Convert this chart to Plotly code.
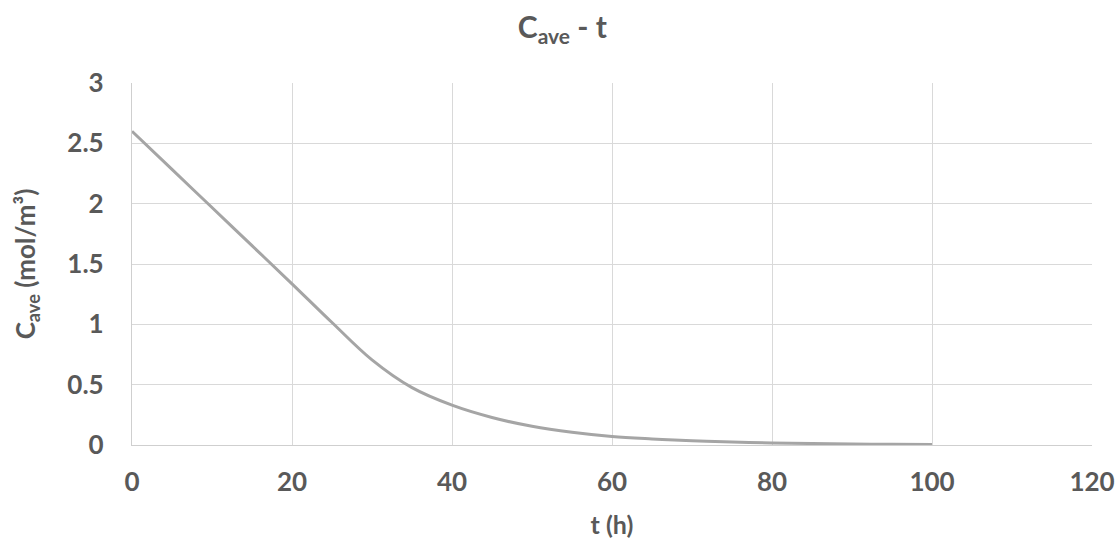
import plotly.graph_objects as go

# Average concentration over time
t_hours = [0, 5, 10, 15, 20, 25, 30, 35, 40, 45, 50, 55, 60, 65, 70, 75, 80, 85, 90, 95, 100]
c_ave = [2.6, 2.284, 1.968, 1.652, 1.336, 1.015, 0.705, 0.475, 0.33, 0.228, 0.155, 0.105, 0.07,
         0.05, 0.035, 0.024, 0.017, 0.012, 0.008, 0.006, 0.004]

x_ticks = [0, 20, 40, 60, 80, 100, 120]
y_ticks = [0, 0.5, 1, 1.5, 2, 2.5, 3]

FONT = "Lato"
TEXT = "#595959"
GRID = "#D9D9D9"

fig = go.Figure()
fig.add_trace(go.Scatter(
    x=t_hours, y=c_ave, mode="lines",
    line=dict(color="#A5A5A5", width=3, shape="spline", smoothing=1.0),
    showlegend=False, hoverinfo="skip",
))

fig.update_layout(
    width=1118, height=542,
    paper_bgcolor="white", plot_bgcolor="white",
    margin=dict(l=132, r=26, t=83, b=97, autoexpand=False),
    title=dict(text="<b>C<sub>ave</sub> - t</b>", x=0.503, xanchor="center",
               y=0.95, yanchor="middle",
               font=dict(family=FONT, size=30, color=TEXT)),
    font=dict(family=FONT, color=TEXT),
)

fig.update_xaxes(
    range=[0, 120], tickvals=x_ticks, ticktext=[f"<b>{v}</b>" for v in x_ticks],
    showgrid=True, gridcolor=GRID, gridwidth=1.3,
    showline=True, linecolor="#CFCFCF", linewidth=1.3,
    zeroline=False, ticks="", ticklabelstandoff=14,
    tickfont=dict(family=FONT, size=26, color=TEXT),
    title=dict(text="<b>t (h)</b>", font=dict(family=FONT, size=25, color=TEXT), standoff=20),
)
fig.update_yaxes(
    range=[0, 3], tickvals=y_ticks, ticktext=[f"<b>{v:g}</b>" for v in y_ticks],
    showgrid=True, gridcolor=GRID, gridwidth=1.3,
    showline=True, linecolor="#CFCFCF", linewidth=1.3,
    zeroline=False, ticks="", ticklabelstandoff=22,
    tickfont=dict(family=FONT, size=26, color=TEXT),
    title=dict(text="<b>C<sub>ave</sub> (mol/m³)</b>",
               font=dict(family=FONT, size=26, color=TEXT), standoff=24),
)

fig.write_html("out.html")
